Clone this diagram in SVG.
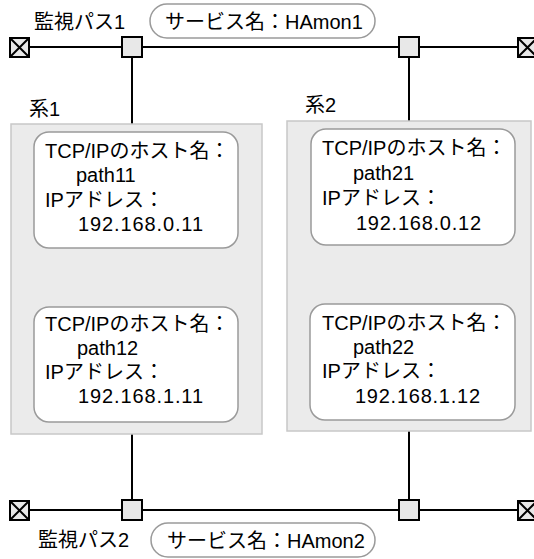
<svg xmlns="http://www.w3.org/2000/svg" width="534" height="559" viewBox="0 0 534 559">
<style>
text{font-family:"Liberation Sans","Noto Sans CJK JP",sans-serif;font-size:20px;fill:#000}
.sys{fill:#ebebeb;stroke:#c8c8c8;stroke-width:1.5}
.host{fill:#fff;stroke:#9a9a9a;stroke-width:1.5}
.pill{fill:#fff;stroke:#9a9a9a;stroke-width:1.5}
.ln{stroke:#000;stroke-width:2;fill:none}
.sq{fill:#e8e8e8;stroke:#000;stroke-width:2}
</style>
<defs>
<g id="term"><rect class="sq" x="0" y="0" width="19" height="19"/><path class="ln" d="M0,0 L19,19 M19,0 L0,19"/></g>
</defs>
<g id="connectors">
<line class="ln" x1="30" y1="47" x2="518" y2="47"/>
<line class="ln" x1="132" y1="57" x2="132" y2="124"/>
<line class="ln" x1="409" y1="57" x2="409" y2="121"/>
<line class="ln" x1="30" y1="510" x2="518" y2="510"/>
<line class="ln" x1="132" y1="434" x2="132" y2="500"/>
<line class="ln" x1="409" y1="431" x2="409" y2="500"/>
</g>
<g id="path1">
<text x="34" y="29">監視パス1</text>
<rect class="pill" x="150" y="4" width="225" height="34" rx="17"/>
<text x="165" y="29">サービス名：HAmon1</text>
<use href="#term" x="10" y="38"/>
<rect class="sq" x="122" y="37" width="20" height="20"/>
<rect class="sq" x="399" y="37" width="20" height="20"/>
<use href="#term" x="518" y="38"/>
</g>
<g id="path2">
<text x="38" y="547">監視パス2</text>
<rect class="pill" x="151" y="523" width="224" height="34" rx="17"/>
<text x="167" y="548">サービス名：HAmon2</text>
<use href="#term" x="10" y="501"/>
<rect class="sq" x="122" y="500" width="20" height="20"/>
<rect class="sq" x="399" y="500" width="20" height="20"/>
<use href="#term" x="518" y="501"/>
</g>
<g id="sys1">
<text x="29" y="116">系1</text>
<rect class="sys" x="11" y="124" width="251" height="310"/>
</g>
<g id="sys2">
<text x="305" y="112">系2</text>
<rect class="sys" x="287" y="121" width="244" height="310"/>
</g>
<g id="host11">
<rect class="host" x="34" y="132" width="204" height="116" rx="15"/>
<text x="45" y="158">TCP/IPのホスト名：</text>
<text x="76" y="182">path11</text>
<text x="45" y="207">IPアドレス：</text>
<text x="78" y="231" textLength="125" lengthAdjust="spacing">192.168.0.11</text>
</g>
<g id="host12">
<rect class="host" x="34" y="307" width="204" height="115" rx="15"/>
<text x="45" y="331">TCP/IPのホスト名：</text>
<text x="77" y="355">path12</text>
<text x="45" y="379">IPアドレス：</text>
<text x="78" y="403" textLength="125" lengthAdjust="spacing">192.168.1.11</text>
</g>
<g id="host21">
<rect class="host" x="311" y="129" width="204" height="116" rx="15"/>
<text x="322" y="155">TCP/IPのホスト名：</text>
<text x="353" y="180">path21</text>
<text x="322" y="205">IPアドレス：</text>
<text x="356" y="230" textLength="125" lengthAdjust="spacing">192.168.0.12</text>
</g>
<g id="host22">
<rect class="host" x="310" y="304" width="205" height="116" rx="15"/>
<text x="322" y="330">TCP/IPのホスト名：</text>
<text x="353" y="354">path22</text>
<text x="322" y="378">IPアドレス：</text>
<text x="355" y="403" textLength="125" lengthAdjust="spacing">192.168.1.12</text>
</g>
</svg>
